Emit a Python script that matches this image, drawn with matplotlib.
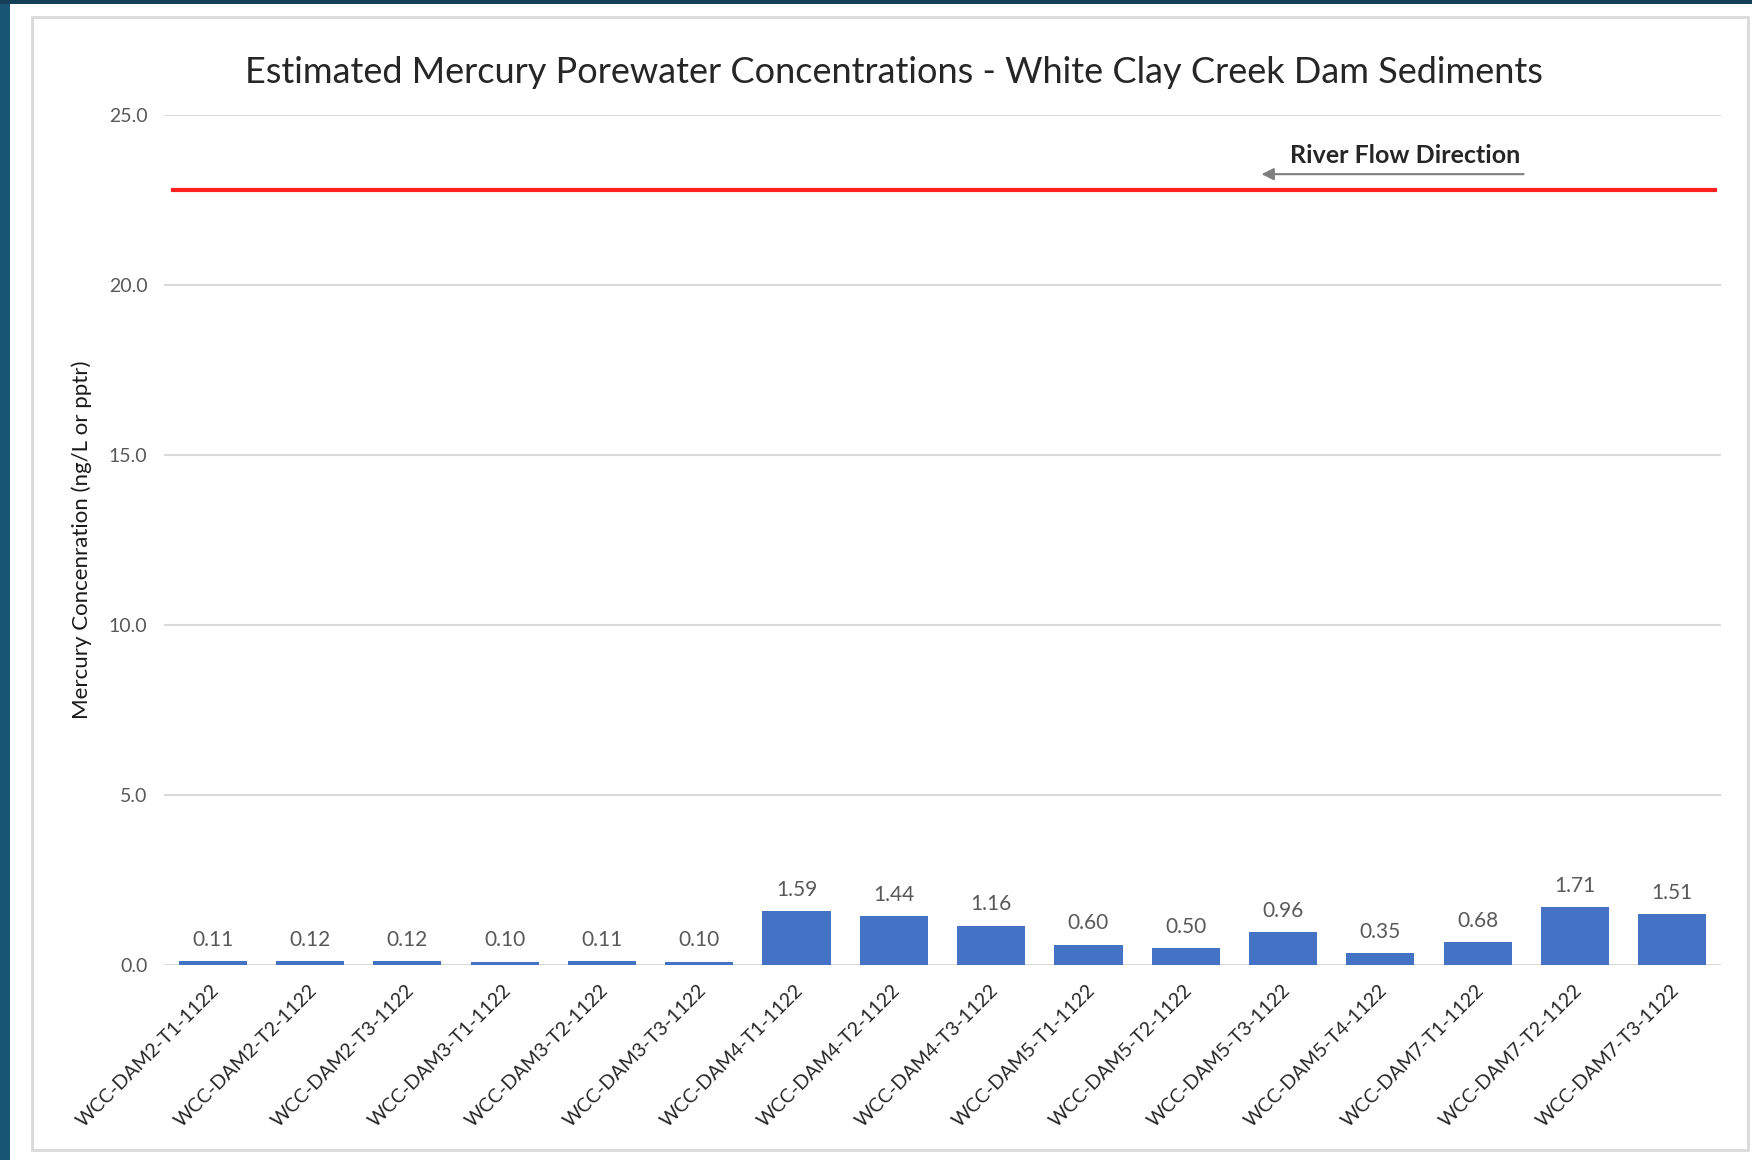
import matplotlib.pyplot as plt
from matplotlib.patches import Rectangle
import matplotlib.transforms as mtransforms

# данные с графика
samples = ['WCC-DAM2-T1-1122', 'WCC-DAM2-T2-1122', 'WCC-DAM2-T3-1122',
           'WCC-DAM3-T1-1122', 'WCC-DAM3-T2-1122', 'WCC-DAM3-T3-1122',
           'WCC-DAM4-T1-1122', 'WCC-DAM4-T2-1122', 'WCC-DAM4-T3-1122',
           'WCC-DAM5-T1-1122', 'WCC-DAM5-T2-1122', 'WCC-DAM5-T3-1122',
           'WCC-DAM5-T4-1122', 'WCC-DAM7-T1-1122', 'WCC-DAM7-T2-1122',
           'WCC-DAM7-T3-1122']
hg_conc = [0.11, 0.12, 0.12, 0.10, 0.11, 0.10, 1.59, 1.44, 1.16,
           0.60, 0.50, 0.96, 0.35, 0.68, 1.71, 1.51]
limit_value = 22.8
y_ticks = [0, 5, 10, 15, 20, 25]

plt.rcParams['font.family'] = ['Lato', 'DejaVu Sans']

W, H = 1752, 1160
fig = plt.figure(figsize=(W / 100, H / 100), dpi=100)
fig.patch.set_facecolor('white')

# тёмная рамка слайда слева и сверху
fig.patches.append(Rectangle((0, 0), 10 / W, 1, transform=fig.transFigure,
                             facecolor='#185573', edgecolor='none', zorder=-10))
fig.patches.append(Rectangle((0, 1 - 4 / H), 1, 4 / H, transform=fig.transFigure,
                             facecolor='#153f58', edgecolor='none', zorder=-10))
# рамка диаграммы
fig.patches.append(Rectangle((32 / W, 1 - 1150 / H), (1748 - 32) / W, (1150 - 17) / H,
                             transform=fig.transFigure, facecolor='white',
                             edgecolor='#d9d9d9', linewidth=2, zorder=-10))

ax = fig.add_axes([164 / W, 1 - 965 / H, (1721 - 164) / W, (965 - 115) / H])
ax.set_facecolor('none')

x = list(range(len(samples)))
bars = ax.bar(x, hg_conc, width=0.70, color='#4472C4', zorder=3)
for b, v in zip(bars, hg_conc):
    ax.annotate(f'{v:.2f}', (b.get_x() + b.get_width() / 2, v), xytext=(0, 8),
                textcoords='offset points', ha='center', va='bottom',
                fontsize=15, color='#595959')

ax.axhline(limit_value, xmin=0.006, xmax=0.996, color='#ff2020', linewidth=3, zorder=4)

ax.set_xlim(-0.5, len(samples) - 0.5)
ax.set_ylim(0, 25)
ax.set_yticks(y_ticks)
ax.set_yticklabels([f'{t:.1f}' for t in y_ticks])
ax.grid(axis='y', color='#d9d9d9', linewidth=1.5, zorder=0)
ax.set_axisbelow(True)
for s in ax.spines.values():
    s.set_visible(False)
ax.tick_params(axis='both', length=0, labelcolor='#595959')
ax.tick_params(axis='y', pad=12, labelsize=14)

ax.set_xticks(x)
ax.set_xticklabels(samples, rotation=45, ha='right', va='top',
                   rotation_mode='anchor', fontsize=14, color='#262626')
offset = mtransforms.ScaledTranslation(-0.02, -0.12, fig.dpi_scale_trans)
for lbl in ax.get_xticklabels():
    lbl.set_transform(lbl.get_transform() + offset)

ax.set_ylabel('Mercury Concenration (ng/L or pptr)', fontsize=16, color='#1a1a1a')
ax.yaxis.set_label_coords(-0.046, 0.5)

ax.set_title('Estimated Mercury Porewater Concentrations - White Clay Creek Dam Sediments',
             fontsize=26, color='#262626', pad=23, x=(894 - 164) / (1721 - 164))

# стрелка направления течения
ax.annotate('', xy=(10.75, 23.26), xytext=(13.5, 23.26),
            arrowprops=dict(arrowstyle='-|>', color='#7f7f7f', lw=1.5,
                            mutation_scale=18, facecolor='black'))
ax.text(12.25, 23.8, 'River Flow Direction', ha='center', va='center',
        fontsize=18, fontweight='bold', color='#262626')

fig.savefig('out.png', dpi=100)
